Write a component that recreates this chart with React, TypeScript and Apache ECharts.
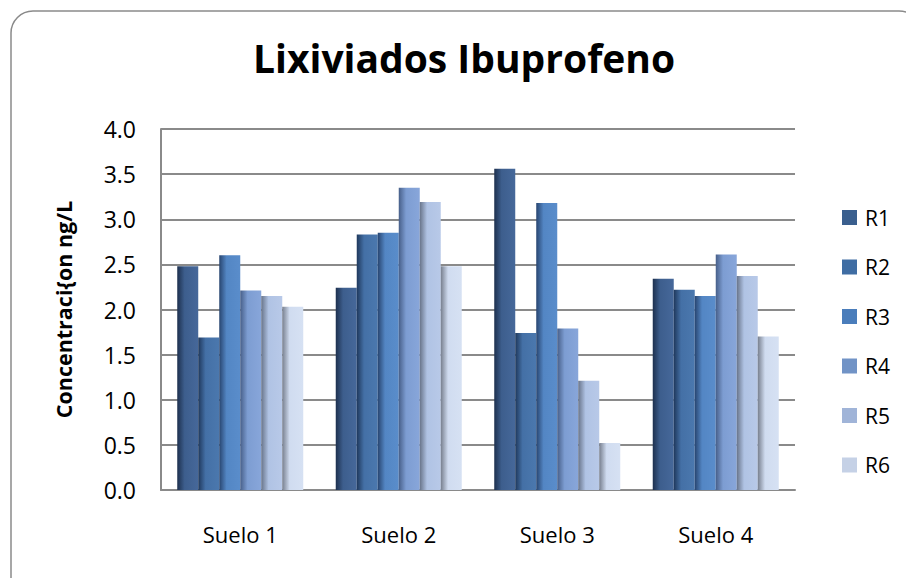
import React, { useEffect, useRef } from "react";
import * as echarts from "echarts";

const categories = ["Suelo 1", "Suelo 2", "Suelo 3", "Suelo 4"];
const seriesNames = ["R1", "R2", "R3", "R4", "R5", "R6"];
const r1 = [2.48, 2.24, 3.56, 2.34];
const r2 = [1.69, 2.83, 1.74, 2.22];
const r3 = [2.6, 2.85, 3.18, 2.15];
const r4 = [2.21, 3.35, 1.79, 2.61];
const r5 = [2.15, 3.19, 1.21, 2.37];
const r6 = [2.03, 2.48, 0.52, 1.7];
const seriesValues = [r1, r2, r3, r4, r5, r6];
const yTicks = [0, 0.5, 1, 1.5, 2, 2.5, 3, 3.5, 4];

const legendColors = ["#3a5f8e", "#3f6da3", "#4a7dbb", "#7193c6", "#a0b4d8", "#c5d1e6"];
const gradStops = [
  ["#1d304e", "#3d5e8d", "#46689a"],
  ["#1f385c", "#4470a6", "#4b78ae"],
  ["#284570", "#5386c4", "#5a8dcb"],
  ["#475f89", "#7d9dd2", "#88a6da"],
  ["#68748a", "#b0c3e4", "#b8c9e8"],
  ["#777f8e", "#d0dcf0", "#d6e1f3"],
];

const FONT = "'Open Sans', 'Noto Sans', sans-serif";

export default function App() {
  const ref = useRef<HTMLDivElement>(null);
  useEffect(() => {
    if (!ref.current) return;
    const chart = echarts.init(ref.current, undefined, { renderer: "svg" });
    chart.setOption({
      animation: false,
      backgroundColor: "#ffffff",
      graphic: [
        {
          type: "rect",
          shape: { x: 11, y: 11, width: 910, height: 590, r: 22 },
          style: { fill: "none", stroke: "#8a8a8a", lineWidth: 1.5 },
          z: -1,
        },
      ],
      title: {
        text: "Lixiviados Ibuprofeno",
        left: 253,
        top: 38,
        padding: 0,
        textStyle: {
          fontFamily: FONT,
          fontSize: 39,
          fontWeight: "bold",
          color: "#000000",
        },
      },
      legend: {
        orient: "vertical",
        left: 842,
        top: 207,
        padding: 0,
        itemWidth: 15,
        itemHeight: 15,
        itemGap: 28.5,
        icon: "rect",
        textStyle: {
          fontFamily: FONT,
          fontSize: 21,
          color: "#000",
          lineHeight: 20,
          padding: [0, 0, 0, 3],
        },
        data: seriesNames.map((n, i) => ({ name: n, itemStyle: { color: legendColors[i] } })),
      },
      grid: { left: 161, right: 111, top: 129, bottom: 88, containLabel: false },
      xAxis: {
        type: "category",
        data: categories,
        axisLine: { lineStyle: { color: "#8a8a8a", width: 2 } },
        axisTick: { show: false },
        axisLabel: {
          fontFamily: FONT,
          fontSize: 22,
          color: "#000",
          margin: 33,
        },
      },
      yAxis: {
        type: "value",
        min: 0,
        max: 4,
        interval: 0.5,
        name: "Concentraci{on ng/L",
        nameLocation: "middle",
        nameGap: 87,
        nameTextStyle: {
          fontFamily: FONT,
          fontSize: 21.5,
          fontWeight: "bold",
          color: "#000",
        },
        axisLine: { show: true, lineStyle: { color: "#8a8a8a", width: 2 } },
        axisTick: { show: false },
        splitLine: { lineStyle: { color: "#8a8a8a", width: 2 } },
        axisLabel: {
          fontFamily: FONT,
          fontSize: 23,
          color: "#000",
          margin: 25,
          formatter: (v: number) => (yTicks.includes(v) ? v.toFixed(1) : ""),
        },
      },
      series: seriesValues.map((vals, i) => ({
        name: seriesNames[i],
        type: "bar",
        data: vals,
        barGap: "0%",
        barCategoryGap: "20.5%",
        itemStyle: {
          color: new echarts.graphic.LinearGradient(0, 0, 1, 0, [
            { offset: 0, color: gradStops[i][0] },
            { offset: 0.35, color: gradStops[i][1] },
            { offset: 1, color: gradStops[i][2] },
          ]),
        },
      })),
    });
    return () => chart.dispose();
  }, []);
  return <div ref={ref} style={{ width: 906, height: 578, position: "absolute", left: 0, top: 0 }} />;
}
